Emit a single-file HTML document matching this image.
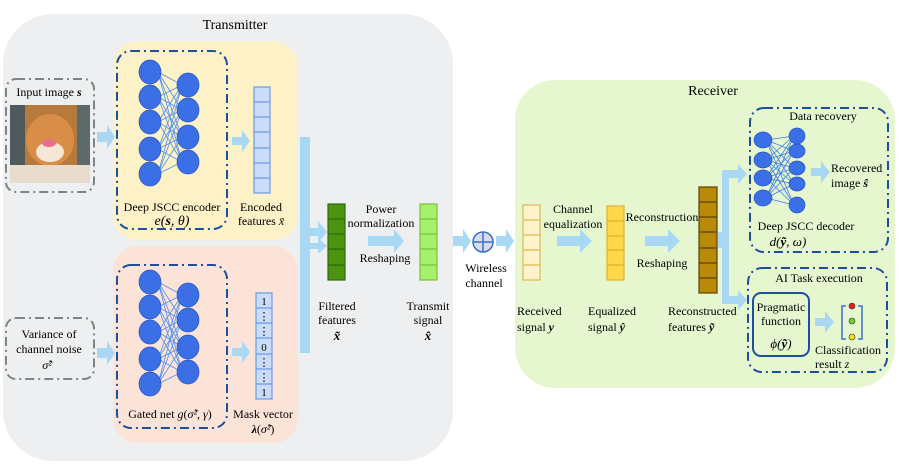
<!DOCTYPE html>
<html><head><meta charset="utf-8"><style>
body{margin:0;background:#fff}
svg{display:block;font-family:"Liberation Serif",serif;}
</style></head><body>
<svg width="899" height="472" viewBox="0 0 899 472" xmlns="http://www.w3.org/2000/svg">
<rect x="3" y="14" width="450" height="447" rx="50" fill="#edeff0"/>
<text x="235" y="29" font-size="14" text-anchor="middle">Transmitter</text>
<rect x="113" y="41" width="185" height="199" rx="25" fill="#fdf1c7"/>
<rect x="113" y="246" width="185" height="197" rx="25" fill="#fbe3d8"/>
<rect x="117" y="51" width="110" height="178" rx="14" fill="none" stroke="#1d4f9c" stroke-width="2" stroke-dasharray="9,4,2,4"/>
<rect x="117" y="265" width="110" height="163" rx="14" fill="none" stroke="#1d4f9c" stroke-width="2" stroke-dasharray="9,4,2,4"/>
<rect x="6" y="79" width="88" height="113" rx="10" fill="none" stroke="#7d8584" stroke-width="2" stroke-dasharray="9,4,2,4"/>
<text x="49" y="96" font-size="12" text-anchor="middle">Input image <tspan font-weight="bold" font-style="italic">s</tspan></text>
<rect x="10" y="105" width="80" height="78" fill="#b87a3c"/>
<rect x="10" y="105" width="15" height="78" fill="#4e5a5c"/>
<rect x="77" y="105" width="13" height="78" fill="#5d6a6a"/>
<ellipse cx="50" cy="140" rx="24" ry="26" fill="#d88d48"/>
<ellipse cx="50" cy="152" rx="14" ry="10" fill="#f5e6d5"/>
<ellipse cx="49" cy="143" rx="7" ry="4" fill="#e76f8a"/>
<rect x="10" y="165" width="80" height="18" fill="#e7dccd"/>
<rect x="6" y="318" width="88" height="61" rx="10" fill="none" stroke="#7d8584" stroke-width="2" stroke-dasharray="9,4,2,4"/>
<text x="49" y="338" font-size="12" text-anchor="middle">Variance of</text>
<text x="49" y="353" font-size="12" text-anchor="middle">channel noise</text>
<text x="47" y="369" font-size="12" font-style="italic" text-anchor="middle">σ̂²</text>
<g fill="#a9d8f5">
<path d="M97,132 h10 v-7 l8,12 l-8,12 v-7 h-10z"/>
<path d="M97,348 h10 v-7 l8,12 l-8,12 v-7 h-10z"/>
<path d="M232,137 h10 v-7 l8,11 l-8,11 v-7 h-10z"/>
<path d="M232,348 h10 v-7 l8,11 l-8,11 v-7 h-10z"/>
<path d="M300,137 h10 v216 h-10 z"/>
<path d="M310,228 h8 v-7 l9,11 l-9,11 v-7 h-8z"/>
<path d="M310,243 h8 v-5 l9,8 l-9,8 v-5 h-8z"/>
<path d="M368,236 h26 v-7 l10,12 l-10,12 v-7 h-26z"/>
<path d="M453,236 h10 v-7 l8,12 l-8,12 v-7 h-10z"/>
<path d="M496,236 h10 v-7 l8,12 l-8,12 v-7 h-10z"/>
</g>
<g stroke="#4d8ef0" stroke-width="0.8" fill="none">
<path d="M158,72L182,85M158,72L182,110M158,72L182,137M158,72L182,162M158,97L182,85M158,97L182,110M158,97L182,137M158,97L182,162M158,122L182,85M158,122L182,110M158,122L182,137M158,122L182,162M158,149L182,85M158,149L182,110M158,149L182,137M158,149L182,162M158,174L182,85M158,174L182,110M158,174L182,137M158,174L182,162"/>
<path transform="translate(0,210)" d="M158,72L182,85M158,72L182,110M158,72L182,137M158,72L182,162M158,97L182,85M158,97L182,110M158,97L182,137M158,97L182,162M158,122L182,85M158,122L182,110M158,122L182,137M158,122L182,162M158,149L182,85M158,149L182,110M158,149L182,137M158,149L182,162M158,174L182,85M158,174L182,110M158,174L182,137M158,174L182,162"/>
</g>
<g fill="#3b6fe6" stroke="#2a55c0" stroke-width="0.7">
<ellipse cx="150" cy="72" rx="11" ry="12"/><ellipse cx="150" cy="97" rx="11" ry="12"/><ellipse cx="150" cy="122" rx="11" ry="12"/><ellipse cx="150" cy="149" rx="11" ry="12"/><ellipse cx="150" cy="174" rx="11" ry="12"/>
<ellipse cx="188" cy="85" rx="11" ry="12"/><ellipse cx="188" cy="110" rx="11" ry="12"/><ellipse cx="188" cy="137" rx="11" ry="12"/><ellipse cx="188" cy="162" rx="11" ry="12"/>
<ellipse cx="150" cy="282" rx="11" ry="12"/><ellipse cx="150" cy="307" rx="11" ry="12"/><ellipse cx="150" cy="332" rx="11" ry="12"/><ellipse cx="150" cy="359" rx="11" ry="12"/><ellipse cx="150" cy="384" rx="11" ry="12"/>
<ellipse cx="188" cy="295" rx="11" ry="12"/><ellipse cx="188" cy="320" rx="11" ry="12"/><ellipse cx="188" cy="347" rx="11" ry="12"/><ellipse cx="188" cy="372" rx="11" ry="12"/>
</g>
<text x="172" y="211" font-size="12" text-anchor="middle">Deep JSCC encoder</text>
<text x="172" y="225" font-size="14" font-style="italic" text-anchor="middle">e(<tspan font-weight="bold">s</tspan>, θ)</text>
<text x="261" y="211" font-size="12" text-anchor="middle">Encoded</text>
<text x="261" y="225" font-size="12" text-anchor="middle">features <tspan font-style="italic">x̄</tspan></text>
<text x="170" y="418" font-size="12" text-anchor="middle">Gated net <tspan font-style="italic">g</tspan>(<tspan font-style="italic">σ̂²</tspan>, <tspan font-style="italic">γ</tspan>)</text>
<text x="263" y="418" font-size="12" text-anchor="middle">Mask vector</text>
<text x="263" y="433" font-size="12" text-anchor="middle"><tspan font-weight="bold" font-style="italic">λ</tspan>(<tspan font-style="italic">σ̂²</tspan>)</text>
<g stroke="#6e9ae8" stroke-width="1.2" fill="#c9ddfb">
<rect x="254" y="87" width="16" height="106"/>
<path d="M254,102h16M254,117h16M254,132h16M254,148h16M254,163h16M254,178h16" fill="none"/>
<rect x="256" y="293" width="16" height="106"/>
<path d="M256,308h16M256,323h16M256,338h16M256,354h16M256,369h16M256,384h16" fill="none"/>
</g>
<g font-size="11" text-anchor="middle"><text x="264" y="305">1</text><text x="264" y="320">⋮</text><text x="264" y="335">⋮</text><text x="264" y="351">0</text><text x="264" y="366">⋮</text><text x="264" y="381">⋮</text><text x="264" y="396">1</text></g>
<g stroke="#2f6b08" stroke-width="1.2" fill="#4c930f">
<rect x="328" y="204" width="17" height="76"/><path d="M328,219h17M328,234h17M328,249h17M328,265h17" fill="none"/>
</g>
<g stroke="#7ac23c" stroke-width="1.2" fill="#a8ef70">
<rect x="420" y="204" width="17" height="76"/><path d="M420,219h17M420,234h17M420,249h17M420,265h17" fill="none"/>
</g>
<text x="381" y="213" font-size="12" text-anchor="middle">Power</text>
<text x="381" y="227" font-size="12" text-anchor="middle">normalization</text>
<text x="385" y="262" font-size="12" text-anchor="middle">Reshaping</text>
<text x="337" y="310" font-size="12" text-anchor="middle">Filtered</text>
<text x="337" y="324" font-size="12" text-anchor="middle">features</text>
<text x="337" y="340" font-size="13" font-weight="bold" font-style="italic" text-anchor="middle">x̃</text>
<text x="428" y="310" font-size="12" text-anchor="middle">Transmit</text>
<text x="428" y="324" font-size="12" text-anchor="middle">signal</text>
<text x="428" y="340" font-size="13" font-weight="bold" font-style="italic" text-anchor="middle">x̂</text>
<circle cx="483" cy="242" r="10" fill="#d8dde8" stroke="#3a6fd0" stroke-width="1.5"/>
<path d="M473,242h20M483,232v20" stroke="#3a6fd0" stroke-width="1.5"/>
<text x="486" y="272" font-size="12" text-anchor="middle">Wireless</text>
<text x="484" y="287" font-size="12" text-anchor="middle">channel</text>
<rect x="515" y="80" width="380" height="308" rx="40" fill="#e6f7d0"/>
<text x="713" y="95" font-size="14" text-anchor="middle">Receiver</text>
<g fill="#a9d8f5">
<path d="M557,236 h23 v-7 l12,12 l-12,12 v-7 h-23z"/>
<path d="M645,236 h23 v-7 l12,12 l-12,12 v-7 h-23z"/>
</g>
<g stroke="#e0b84a" stroke-width="1.2" fill="#fff3cc">
<rect x="523" y="205" width="17" height="75"/><path d="M523,220h17M523,235h17M523,250h17M523,265h17" fill="none"/>
</g>
<g stroke="#e0b030" stroke-width="1.2" fill="#ffd84a">
<rect x="607" y="206" width="17" height="74"/><path d="M607,221h17M607,236h17M607,250h17M607,265h17" fill="none"/>
</g>
<g stroke="#5a4200" stroke-width="1.2" fill="#b88a08">
<rect x="699" y="187" width="18" height="106"/><path d="M699,202h18M699,217h18M699,232h18M699,248h18M699,263h18M699,278h18" fill="none"/>
</g>
<text x="573" y="213" font-size="12" text-anchor="middle">Channel</text>
<text x="573" y="228" font-size="12" text-anchor="middle">equalization</text>
<text x="662" y="221" font-size="12" text-anchor="middle">Reconstruction</text>
<text x="662" y="267" font-size="12" text-anchor="middle">Reshaping</text>
<text x="517" y="315" font-size="12">Received</text>
<text x="517" y="331" font-size="12">signal <tspan font-weight="bold" font-style="italic">y</tspan></text>
<text x="588" y="315" font-size="12">Equalized</text>
<text x="588" y="331" font-size="12">signal <tspan font-weight="bold" font-style="italic">ŷ</tspan></text>
<text x="668" y="315" font-size="12">Reconstructed</text>
<text x="668" y="331" font-size="12">features <tspan font-weight="bold" font-style="italic">ỹ</tspan></text>
<g fill="#a9d8f5">
<rect x="718" y="232" width="8" height="16"/>
<rect x="722" y="170" width="7" height="134"/>
<path d="M722,170 h16 v-6 l9,10 l-9,10 v-6 h-16z"/>
<path d="M722,296 h16 v-6 l9,10 l-9,10 v-6 h-16z"/>
<path d="M811,168 h10 v-7 l9,11 l-9,11 v-7 h-10z"/>
<path d="M815,318 h10 v-7 l9,11 l-9,11 v-7 h-10z"/>
</g>
<rect x="750" y="108" width="138" height="144" rx="14" fill="none" stroke="#1d4f9c" stroke-width="2" stroke-dasharray="9,4,2,4"/>
<rect x="748" y="268" width="139" height="104" rx="14" fill="none" stroke="#1d4f9c" stroke-width="2" stroke-dasharray="9,4,2,4"/>
<g stroke="#3a7de8" stroke-width="0.8" fill="none">
<path d="M766,140L794,136M766,140L794,151M766,140L794,168M766,140L794,184M766,140L794,205M766,160L794,136M766,160L794,151M766,160L794,168M766,160L794,184M766,160L794,205M766,178L794,136M766,178L794,151M766,178L794,168M766,178L794,184M766,178L794,205M766,198L794,136M766,198L794,151M766,198L794,168M766,198L794,184M766,198L794,205"/>
</g>
<g fill="#3b6fe6" stroke="#2a55c0" stroke-width="0.7">
<ellipse cx="763" cy="140" rx="9" ry="8"/><ellipse cx="763" cy="160" rx="9" ry="8"/><ellipse cx="763" cy="178" rx="9" ry="8"/><ellipse cx="763" cy="198" rx="9" ry="8"/>
<ellipse cx="797" cy="136" rx="8" ry="8"/><ellipse cx="797" cy="151" rx="8" ry="7"/><ellipse cx="797" cy="168" rx="8" ry="7"/><ellipse cx="797" cy="184" rx="8" ry="7"/><ellipse cx="797" cy="205" rx="8" ry="8"/>
</g>
<text x="823" y="120" font-size="12" text-anchor="middle">Data recovery</text>
<text x="831" y="172" font-size="12">Recovered</text>
<text x="831" y="187" font-size="12">image <tspan font-weight="bold" font-style="italic">ŝ</tspan></text>
<text x="806" y="230" font-size="12" text-anchor="middle">Deep JSCC decoder</text>
<text x="788" y="246" font-size="13" font-style="italic" text-anchor="middle">d(<tspan font-weight="bold">ỹ</tspan>, ω)</text>
<text x="819" y="282" font-size="12" text-anchor="middle">AI Task execution</text>
<rect x="753" y="293" width="56" height="63" rx="8" fill="none" stroke="#1d4f9c" stroke-width="2"/>
<text x="781" y="311" font-size="12" text-anchor="middle">Pragmatic</text>
<text x="781" y="325" font-size="12" text-anchor="middle">function</text>
<text x="781" y="348" font-size="13" font-style="italic" text-anchor="middle">ϕ(<tspan font-weight="bold">ỹ</tspan>)</text>
<path d="M846,306h-4v33h4M858,306h4v33h-4" fill="none" stroke="#3a6fd0" stroke-width="1.5"/>
<circle cx="852" cy="306" r="3" fill="#e02020" stroke="#333" stroke-width="0.6"/>
<circle cx="852" cy="321" r="3" fill="#6cd030" stroke="#333" stroke-width="0.6"/>
<circle cx="852" cy="337" r="3" fill="#f0e020" stroke="#333" stroke-width="0.6"/>
<text x="815" y="354" font-size="12">Classification</text>
<text x="815" y="368" font-size="12">result <tspan font-style="italic">z</tspan></text>
</svg>
</body></html>
